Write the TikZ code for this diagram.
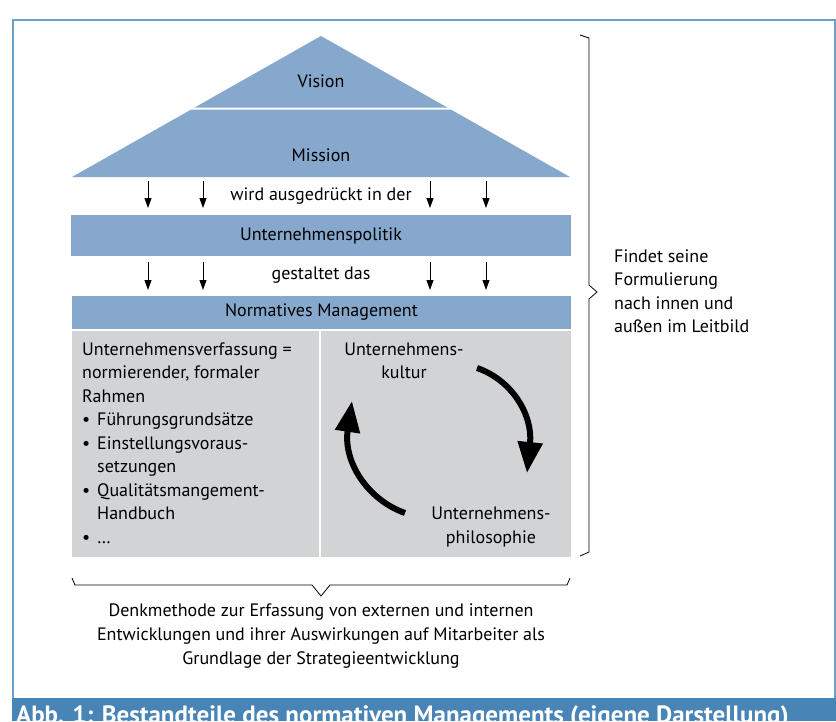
\documentclass[tikz,border=0pt]{standalone}
\usepackage{fontspec}
\setmainfont{PT Sans}
\usetikzlibrary{arrows.meta}
\definecolor{boxblue}{RGB}{133,168,204}
\definecolor{greybox}{RGB}{209,211,212}
\definecolor{framec}{RGB}{110,160,205}
\definecolor{capbar}{RGB}{72,132,181}
\tikzset{
  txt/.style={inner sep=0pt, font=\fontsize{18}{23.5}\selectfont},
  lt/.style={txt, anchor=base west},
  bar/.style={fill=boxblue, inner sep=0pt, font=\fontsize{18}{23.5}\selectfont},
  darr/.style={line width=0.9pt, -{Triangle[width=7pt,length=10pt]}},
  bigarr/.style={line width=6pt, -{Triangle[width=24pt,length=31pt]}},
  brace/.style={line width=0.8pt, line join=miter}
}
\begin{document}
\begin{tikzpicture}[x=1pt,y=-1pt]
\useasboundingbox (0,0) rectangle (836,721);
\fill[white] (0,0) rectangle (836,721);
% frame
\draw[framec, line width=1.3pt] (13,721) -- (13,20) -- (835,20) -- (835,721);
% caption bar
\begin{scope}
\clip (0,698) rectangle (836,721);
\fill[capbar] (12.4,698) rectangle (836,721);
\node[anchor=base west, inner sep=0pt, text=white, font=\fontsize{25}{27}\selectfont\bfseries] (cap) at (16,723) {Abb. 1: Bestandteile des normativen Managements (eigene Darstellung)};
\end{scope}
% pyramid
\fill[boxblue] (321,36) -- (447.3,107.5) -- (194.7,107.5) -- cycle;
\fill[boxblue] (191.2,109.5) -- (450.8,109.5) -- (570,177) -- (72,177) -- cycle;
\node[txt] (vis) at (321,81) {Vision};
\node[txt] (mis) at (321,155) {Mission};
% arrows row 1
\node[txt] (wird) at (321,196) {wird ausgedrückt in der};
\foreach \i/\x in {1/148,2/203,3/430,4/486}{
  \coordinate (a\i) at (\x,181);
  \coordinate (b\i) at (\x,208);
  \draw[darr] (a\i) -- (b\i);
}
% Unternehmenspolitik
\node[bar, minimum width=500pt, minimum height=41pt] (pol) at (321,235.5) {Unternehmenspolitik};
% arrows row 2
\node[txt] (gest) at (321,275) {gestaltet das};
\foreach \i/\x in {1/148,2/203,3/430,4/486}{
  \coordinate (c\i) at (\x,262);
  \coordinate (d\i) at (\x,290);
  \draw[darr] (c\i) -- (d\i);
}
% Normatives Management
\node[bar, minimum width=499pt, minimum height=33pt] (nm) at (321.5,312.5) {Normatives Management};
\node[fill=greybox, inner sep=0pt, minimum width=499pt, minimum height=226pt] (grey) at (321.5,444) {};
\draw[white, line width=1.5pt] (320,331) -- (320,557);
\draw[white, line width=1.5pt] (72,330) -- (571,330);
% left list
\node[lt] (l1) at (82,355) {Unternehmensverfassung =};
\node[lt] (l2) at (82,378.5) {normierender, formaler};
\node[lt] (l3) at (82,402) {Rahmen};
\node[lt] (l4) at (82,425.5) {\makebox[15pt][l]{•}Führungsgrundsätze};
\node[lt] (l5) at (82,449) {\makebox[15pt][l]{•}Einstellungsvoraus-};
\node[lt] (l6) at (97,472.5) {setzungen};
\node[lt] (l7) at (82,496) {\makebox[15pt][l]{•}Qualitätsmangement-};
\node[lt] (l8) at (97,519.5) {Handbuch};
\node[lt] (l9) at (82,543) {\makebox[15pt][l]{•}\dots};
% right cycle
\node[txt, align=center] (kult) at (404,361) {Unternehmens-\\kultur};
\node[txt, align=center] (phil) at (491,527) {Unternehmens-\\philosophie};
\coordinate (s1) at (477,368);
\coordinate (e1) at (527,473);
\coordinate (s2) at (405,513);
\coordinate (e2) at (352,401);
\draw[bigarr] (s1) .. controls (512,380) and (533,415) .. (e1);
\draw[bigarr] (s2) .. controls (368,500) and (343,462) .. (e2);
% right brace
\draw[brace] (580,35) -- (589,38) -- (589,285) -- (597,292) -- (589,299) -- (589,552) -- (580,556);
\node[txt, align=left, anchor=west] (find) at (614,291) {Findet seine\\Formulierung\\nach innen und\\außen im Leitbild};
% bottom brace
\draw[brace] (72,578) -- (75,585) -- (312,585) -- (321,596) -- (330,585) -- (567,585) -- (570,578);
\node[txt, align=center, font=\fontsize{18}{24}\selectfont] (denk) at (321,636) {Denkmethode zur Erfassung von externen und internen\\Entwicklungen und ihrer Auswirkungen auf Mitarbeiter als\\Grundlage der Strategieentwicklung};
\end{tikzpicture}
\end{document}
